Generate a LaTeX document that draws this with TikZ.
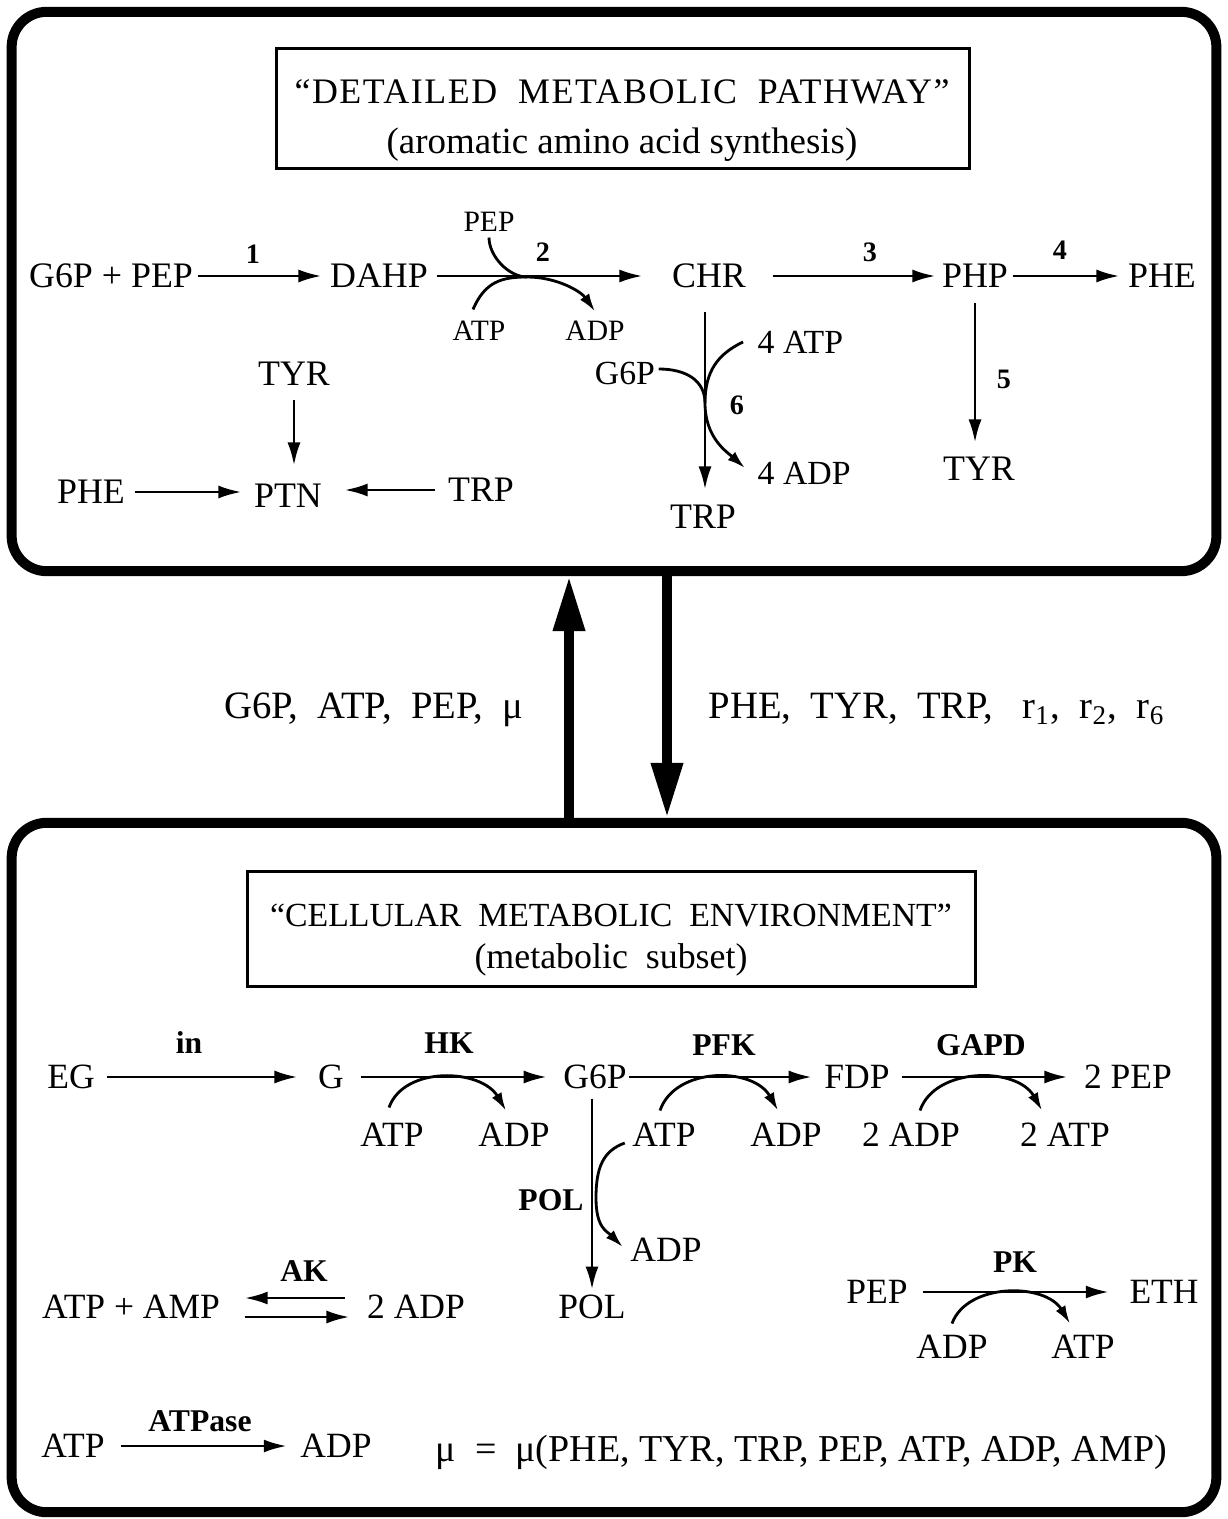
\documentclass[tikz,border=0pt]{standalone}
\usepackage{fontspec}
\setmainfont{Liberation Serif}
\usetikzlibrary{arrows.meta,calc}
\newcommand\fmain{\fontsize{10.2}{12}\selectfont}
\newcommand\fsmall{\fontsize{8.4}{10}\selectfont}
\newcommand\fmid{\fontsize{9.6}{11}\selectfont}
\newcommand\fbot{\fontsize{10.1}{12}\selectfont}
\newcommand\fflow{\fontsize{11}{13}\selectfont}
\newcommand\fnum{\fontsize{8}{9}\selectfont\bfseries}
\newcommand\fenz{\fontsize{9}{10}\selectfont\bfseries}
\begin{document}
\begin{tikzpicture}[x=0.01cm,y=-0.01cm,
        m/.style ={font=\fmain, inner sep=0pt, text height=6.7pt, text depth=0pt},
        s/.style ={font=\fsmall, inner sep=0pt, text height=5.6pt, text depth=0pt},
        sm/.style={font=\fmid, inner sep=0pt, text height=6.3pt, text depth=0pt},
        bm/.style={font=\fbot, inner sep=0pt, text height=6.7pt, text depth=0pt},
        fl/.style={font=\fflow, inner sep=0pt, text height=7.2pt, text depth=0pt},
        n/.style ={font=\fnum, inner sep=0pt, text height=5.4pt, text depth=0pt},
        e/.style ={font=\fenz, inner sep=0pt, text height=6pt, text depth=0pt},
        tt/.style={m, font=\fmain\addfontfeatures{LetterSpace=4.3}},
        ar/.style ={line width=0.8pt, -{Latex[length=2.3mm,width=1.3mm]}},
        cf/.style ={line width=0.8pt},
        cfa/.style={cf, -{Latex[length=1.8mm,width=1.1mm]}},
        big/.style={line width=1mm, -{Triangle[length=5.5mm,width=3mm]}},
        frame/.style={draw, line width=1mm, rounded corners=3.5mm, inner sep=0pt},
        tbox/.style={draw, line width=0.85pt, inner sep=0pt}]
    \useasboundingbox (0,0) rectangle (1227,1519);
% the two compartments
    \node[frame, minimum width=12.04cm, minimum height=5.59cm] (top) at (614,291.5) {};
    \node[frame, minimum width=12.04cm, minimum height=6.89cm] (bot) at (614,1167.5) {};
    \node[tbox, minimum width=6.92cm, minimum height=1.19cm] (tbtop) at (623,108.5) {};
    \node[tt] (t1a) at (622,92) {“DETAILED\ \ METABOLIC\ \ PATHWAY”};
    \node[m, font=\fontsize{10.5}{12}\selectfont] (t1b) at (622,142) {(aromatic amino acid synthesis)};
    \node[tbox, minimum width=7.27cm, minimum height=1.14cm] (tbbot) at (611.5,929) {};
    \node[m, font=\fontsize{9.6}{11}\selectfont] (t2a) at (611,915) {“CELLULAR\ \ METABOLIC\ \ ENVIRONMENT”};
    \node[m]  (t2b) at (611,957) {(metabolic\ \ subset)};
% exchange between the compartments
    \coordinate (upx) at (569,700);
    \coordinate (dnx) at (667,700);
    \draw[big] (upx |- bot.north) -- (upx |- top.south);
    \draw[big] (dnx |- top.south) -- (dnx |- bot.north);
    \node[fl, anchor=east] (tomet) at (524,706) {G6P,\ \ ATP,\ \ PEP,\ \ μ};
    \node[fl, anchor=west] (toenv) at (708,706) {PHE,\ \ TYR,\ \ TRP,\ \ \ r\textsubscript{1},\ \ r\textsubscript{2},\ \ r\textsubscript{6}};
% aromatic pathway
    \node[m] (g6ppep) at (111,276) {G6P + PEP};
    \node[m] (dahp) at (379,276) {DAHP};
    \node[m] (chr)  at (709,276) {CHR};
    \node[m] (php)  at (975,276) {PHP};
    \node[m] (phe)  at (1162,276) {PHE};
    \node[m] (trp)  at (703,517) {TRP};
    \node[m] (tyr)  at (979,469) {TYR};
    \draw[ar, shorten <=0.4mm, shorten >=0.8mm] (g6ppep.east) -- (dahp.west);
    \draw[ar, shorten <=0.8mm, shorten >=2.9mm] (dahp.east) -- (chr.west);
    \draw[ar, shorten <=2.6mm, shorten >=0.6mm] (chr.east) -- (php.west);
    \draw[ar, shorten <=0.4mm, shorten >=0.8mm] (php.east) -- (phe.west);
    \draw[ar, shorten <=1.5mm, shorten >=1.4mm] (php.south) -- (php.south |- tyr.north);
    \node[n] (r1) at (253,254) {1};
    \node[n] (r2) at (543,252) {2};
    \node[n] (r3) at (870,252) {3};
    \node[n] (r4) at (1060,250) {4};
    \node[n] (r5) at (1004,379) {5};
    \node[n] (r6) at (737,405) {6};
% step 2 cofactors
    \node[s] (pepb) at (489,222) {PEP};
    \node[s] (atpb) at (479,331) {ATP};
    \node[s] (adpb) at (595,331) {ADP};
    \coordinate (jb) at (527,277);
    \draw[cf, shorten <=0.5mm] (pepb.south) .. controls +(0,24) and +(-18,0) .. (jb);
    \draw[cfa] ($(atpb.north)+(-6,-11)$) .. controls +(12,-28) and +(-25,0) .. (jb)
        .. controls +(30,0) and +(-14,-20) .. ($(adpb.north)+(0,-9)$);
% step 6 branch
    \node[sm] (g6pc) at (625,373) {G6P};
    \node[sm, anchor=west] (atpc) at (757,342) {4\ ATP};
    \node[sm, anchor=west] (adpc) at (757,473) {4\ ADP};
    \coordinate (jc) at (705,403);
    \draw[ar, shorten <=2.4mm, shorten >=1.5mm] (jc |- chr.south) -- (jc |- trp.north);
    \draw[cf] ($(g6pc.east)+(3,-4)$) .. controls +(28,0) and +(0,-22) .. (jc);
    \draw[cf] ($(atpc.west)+(-14,0)$) .. controls +(-25,12) and +(0,-32) .. (jc);
    \draw[cfa] (jc) .. controls +(0,35) and +(-18,-16) .. ($(adpc.west)+(-12,-5)$);
% protein
    \node[m] (tyrp) at (294,374) {TYR};
    \node[m] (ptn)  at (288,496) {PTN};
    \node[m] (phep) at (91,492) {PHE};
    \node[m] (trpp) at (481,490) {TRP};
    \draw[ar, shorten <=1.4mm, shorten >=1.8mm] (tyrp.south) -- (tyrp.south |- ptn.north);
    \draw[ar, shorten <=0.9mm, shorten >=1.2mm] (phep.east) -- (phep.east -| ptn.west);
    \draw[ar, shorten <=1.2mm, shorten >=2.2mm] (trpp.west) -- (trpp.west -| ptn.east);
% glycolysis
    \node[bm] (eg)   at (71,1077) {EG};
    \node[bm] (g)    at (331,1077) {G};
    \node[bm] (g6p)  at (595,1077) {G6P};
    \node[bm] (fdp)  at (857,1077) {FDP};
    \node[bm] (pep2) at (1128,1077) {2 PEP};
    \draw[ar, shorten <=1.2mm, shorten >=2mm] (eg.east) -- (g.west);
    \draw[ar, shorten <=1.6mm, shorten >=1.6mm] (g.east) -- (g6p.west);
    \draw[ar, shorten <=0.2mm, shorten >=1.2mm] (g6p.east) -- (fdp.west);
    \draw[ar, shorten <=1.2mm, shorten >=1.6mm] (fdp.east) -- (pep2.west);
    \node[e] (kin)   at (189,1043) {in};
    \node[e] (khk)   at (449,1043) {HK};
    \node[e] (kpfk)  at (724,1045) {PFK};
    \node[e] (kgapd) at (981,1045) {GAPD};
    \node[bm] (hkatp)   at (392,1135) {ATP};
    \node[bm] (hkadp)   at (514,1135) {ADP};
    \node[bm] (pfkatp)  at (664,1135) {ATP};
    \node[bm] (pfkadp)  at (786,1135) {ADP};
    \node[bm] (gapdadp) at (911,1135) {2 ADP};
    \node[bm] (gapdatp) at (1065,1135) {2 ATP};
    \draw[cfa] ($(hkatp.north)+(-3,-15)$) .. controls +(15,-42) and +(-25,-42) .. ($(hkadp.north)+(-8,-12)$);
    \draw[cfa] ($(pfkatp.north)+(-4,-12)$) .. controls +(15,-44) and +(-25,-44) .. ($(pfkadp.north)+(-8,-12)$);
    \draw[cfa] ($(gapdadp.north)+(9,-12)$) .. controls +(15,-44) and +(-25,-44) .. ($(gapdatp.north)+(-23,-12)$);
% polyol branch
    \node[bm] (pol)    at (592,1307) {POL};
    \node[e]  (kpol)   at (551,1200) {POL};
    \node[bm] (poladp) at (666,1250) {ADP};
    \coordinate (jp) at (596,1198);
    \draw[ar, shorten <=0.9mm, shorten >=0.5mm] (pol.north |- g6p.south) -- (pol.north);
    \draw[cf] ($(pfkatp.west)+(-7,8)$) .. controls +(-22,8) and +(0,-30) .. (jp);
    \draw[cfa] (jp) .. controls +(0,30) and +(-16,-16) .. ($(poladp.west)+(-7,-3)$);
% adenylate kinase
    \node[bm] (atpamp) at (131,1307) {ATP + AMP};
    \node[bm] (adp2k)  at (416,1307) {2 ADP};
    \node[e]  (kak)    at (304,1271) {AK};
    \draw[ar] ($(adp2k.west)+(-21,-9)$) -- ($(atpamp.east)+(24,-9)$);
    \draw[ar] ($(atpamp.east)+(24,10)$) -- ($(adp2k.west)+(-17,10)$);
% pyruvate kinase
    \node[bm] (pep3)  at (877,1292) {PEP};
    \node[bm] (eth)   at (1164,1292) {ETH};
    \node[e]  (kpk)   at (1015,1262) {PK};
    \node[bm] (pkadp) at (952,1347) {ADP};
    \node[bm] (pkatp) at (1083,1347) {ATP};
    \draw[ar, shorten <=1.5mm, shorten >=2mm] (pep3.east) -- (eth.west);
    \draw[cfa] ($(pkadp.north)+(0,-11)$) .. controls +(15,-41) and +(-25,-41) .. ($(pkatp.north)+(-13,-11)$);
% ATPase and growth rate
    \node[bm] (atpx)    at (73,1446) {ATP};
    \node[bm] (adpx)    at (336,1446) {ADP};
    \node[e]  (katpase) at (200,1421) {ATPase};
    \draw[ar, shorten <=1.6mm, shorten >=1.3mm] (atpx.east) -- (adpx.west);
    \node[bm, font=\fontsize{10.8}{12}\selectfont, anchor=west] (mu) at (435,1450) {μ\ \ =\ \ μ(PHE, TYR, TRP, PEP, ATP, ADP, AMP)};
\end{tikzpicture}
\end{document}
